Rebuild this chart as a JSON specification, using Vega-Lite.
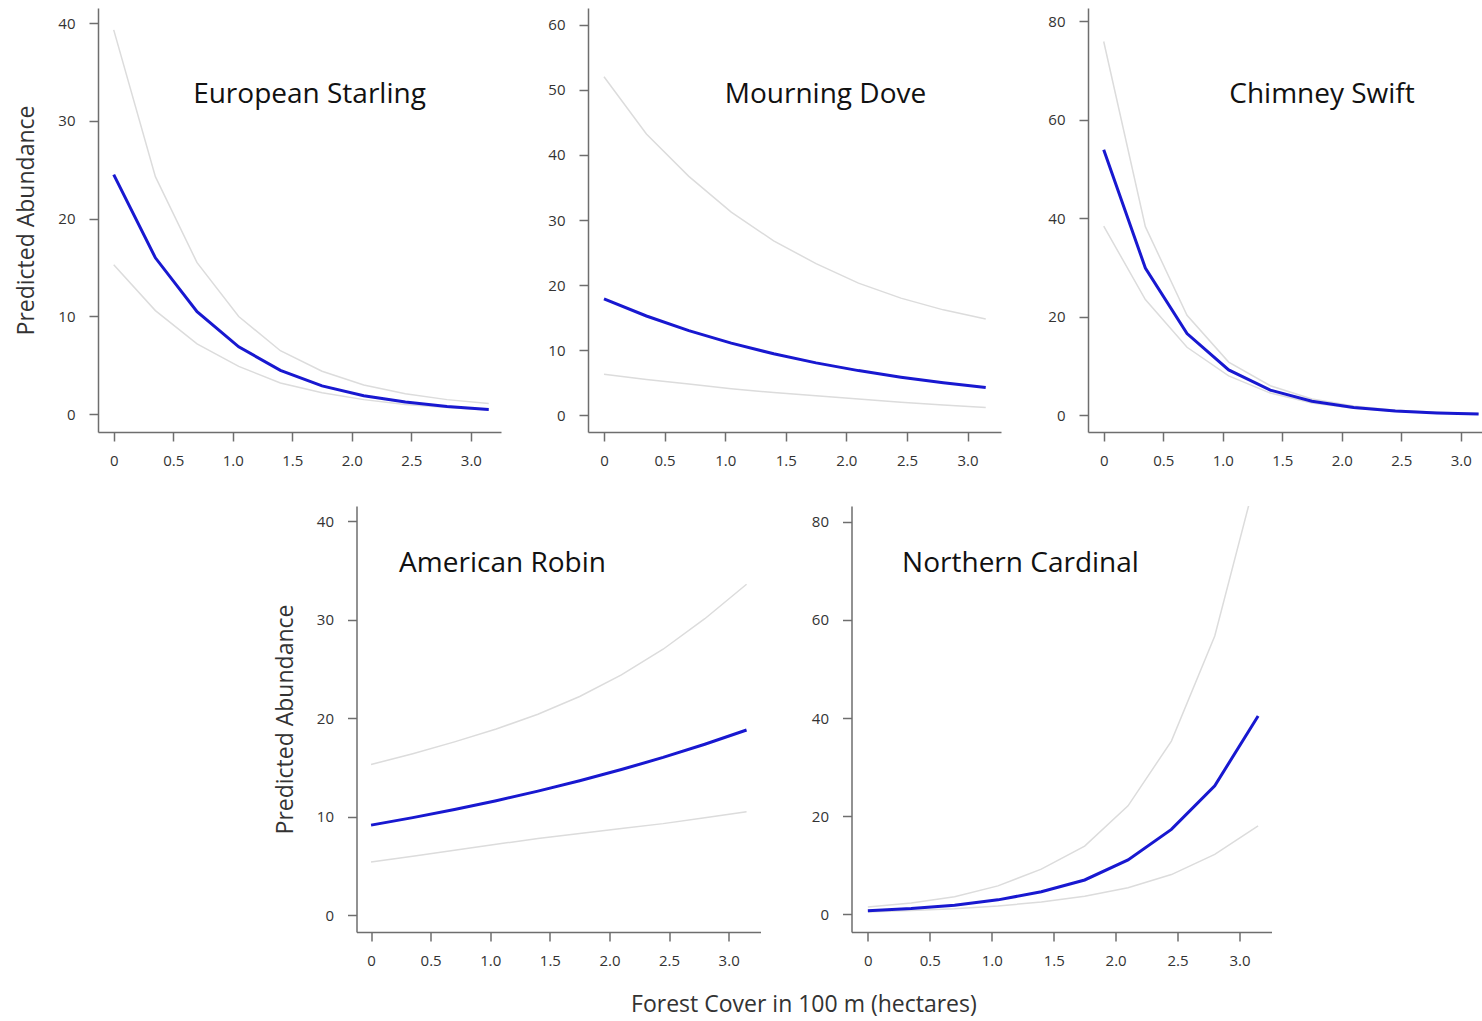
{
  "$schema": "https://vega.github.io/schema/vega-lite/v6.json",
  "padding": {"left": 15, "top": 8, "right": 0, "bottom": 10},
  "background": "white",
  "datasets": {
    "d": [
      {"sp": "European Starling", "x": 0, "fit": 24.5, "lo": 15.3, "hi": 39.3},
      {"sp": "European Starling", "x": 0.35, "fit": 16.0, "lo": 10.6, "hi": 24.3},
      {"sp": "European Starling", "x": 0.7, "fit": 10.5, "lo": 7.2, "hi": 15.5},
      {"sp": "European Starling", "x": 1.05, "fit": 6.9, "lo": 4.9, "hi": 10.0},
      {"sp": "European Starling", "x": 1.4, "fit": 4.5, "lo": 3.2, "hi": 6.5},
      {"sp": "European Starling", "x": 1.75, "fit": 2.9, "lo": 2.2, "hi": 4.4},
      {"sp": "European Starling", "x": 2.1, "fit": 1.9, "lo": 1.5, "hi": 3.0},
      {"sp": "European Starling", "x": 2.45, "fit": 1.25, "lo": 1.0, "hi": 2.1},
      {"sp": "European Starling", "x": 2.8, "fit": 0.8, "lo": 0.7, "hi": 1.5},
      {"sp": "European Starling", "x": 3.15, "fit": 0.5, "lo": 0.45, "hi": 1.1},
      {"sp": "Mourning Dove", "x": 0, "fit": 17.9, "lo": 6.3, "hi": 52.0},
      {"sp": "Mourning Dove", "x": 0.35, "fit": 15.26, "lo": 5.5, "hi": 43.2},
      {"sp": "Mourning Dove", "x": 0.7, "fit": 13.01, "lo": 4.8, "hi": 36.7},
      {"sp": "Mourning Dove", "x": 1.05, "fit": 11.09, "lo": 4.1, "hi": 31.2},
      {"sp": "Mourning Dove", "x": 1.4, "fit": 9.45, "lo": 3.5, "hi": 26.8},
      {"sp": "Mourning Dove", "x": 1.75, "fit": 8.06, "lo": 3.0, "hi": 23.3},
      {"sp": "Mourning Dove", "x": 2.1, "fit": 6.87, "lo": 2.5, "hi": 20.3},
      {"sp": "Mourning Dove", "x": 2.45, "fit": 5.86, "lo": 2.0, "hi": 18.0},
      {"sp": "Mourning Dove", "x": 2.8, "fit": 4.99, "lo": 1.6, "hi": 16.2},
      {"sp": "Mourning Dove", "x": 3.15, "fit": 4.26, "lo": 1.2, "hi": 14.8},
      {"sp": "Chimney Swift", "x": 0, "fit": 53.9, "lo": 38.4, "hi": 75.9},
      {"sp": "Chimney Swift", "x": 0.35, "fit": 29.9, "lo": 23.5, "hi": 38.3},
      {"sp": "Chimney Swift", "x": 0.7, "fit": 16.6, "lo": 13.8, "hi": 20.3},
      {"sp": "Chimney Swift", "x": 1.05, "fit": 9.2, "lo": 8.0, "hi": 10.8},
      {"sp": "Chimney Swift", "x": 1.4, "fit": 5.1, "lo": 4.5, "hi": 6.0},
      {"sp": "Chimney Swift", "x": 1.75, "fit": 2.84, "lo": 2.5, "hi": 3.3},
      {"sp": "Chimney Swift", "x": 2.1, "fit": 1.58, "lo": 1.4, "hi": 1.9},
      {"sp": "Chimney Swift", "x": 2.45, "fit": 0.87, "lo": 0.8, "hi": 1.0},
      {"sp": "Chimney Swift", "x": 2.8, "fit": 0.48, "lo": 0.45, "hi": 0.6},
      {"sp": "Chimney Swift", "x": 3.15, "fit": 0.27, "lo": 0.25, "hi": 0.35},
      {"sp": "American Robin", "x": 0, "fit": 9.15, "lo": 5.4, "hi": 15.3},
      {"sp": "American Robin", "x": 0.35, "fit": 9.91, "lo": 6.0, "hi": 16.4},
      {"sp": "American Robin", "x": 0.7, "fit": 10.74, "lo": 6.6, "hi": 17.6},
      {"sp": "American Robin", "x": 1.05, "fit": 11.63, "lo": 7.2, "hi": 18.9},
      {"sp": "American Robin", "x": 1.4, "fit": 12.6, "lo": 7.8, "hi": 20.4},
      {"sp": "American Robin", "x": 1.75, "fit": 13.65, "lo": 8.3, "hi": 22.2},
      {"sp": "American Robin", "x": 2.1, "fit": 14.79, "lo": 8.8, "hi": 24.4},
      {"sp": "American Robin", "x": 2.45, "fit": 16.02, "lo": 9.3, "hi": 27.0},
      {"sp": "American Robin", "x": 2.8, "fit": 17.36, "lo": 9.9, "hi": 30.1},
      {"sp": "American Robin", "x": 3.15, "fit": 18.8, "lo": 10.5, "hi": 33.6},
      {"sp": "Northern Cardinal", "x": 0, "fit": 0.75, "lo": 0.5, "hi": 1.5},
      {"sp": "Northern Cardinal", "x": 0.35, "fit": 1.2, "lo": 0.8, "hi": 2.3},
      {"sp": "Northern Cardinal", "x": 0.7, "fit": 1.85, "lo": 1.15, "hi": 3.6},
      {"sp": "Northern Cardinal", "x": 1.05, "fit": 2.95, "lo": 1.7, "hi": 5.8},
      {"sp": "Northern Cardinal", "x": 1.4, "fit": 4.6, "lo": 2.5, "hi": 9.2},
      {"sp": "Northern Cardinal", "x": 1.75, "fit": 7.0, "lo": 3.7, "hi": 13.9},
      {"sp": "Northern Cardinal", "x": 2.1, "fit": 11.1, "lo": 5.4, "hi": 22.1},
      {"sp": "Northern Cardinal", "x": 2.45, "fit": 17.3, "lo": 8.1, "hi": 35.3},
      {"sp": "Northern Cardinal", "x": 2.8, "fit": 26.2, "lo": 12.2, "hi": 56.7},
      {"sp": "Northern Cardinal", "x": 3.15, "fit": 40.4, "lo": 18.0, "hi": 90.7}
    ]
  },
  "title": {"text": "Forest Cover in 100 m (hectares)", "orient": "bottom", "anchor": "middle", "frame": "bounds", "fontSize": 23, "color": "#333333", "baseline": "top", "offset": 26, "dx": 31},
  "spacing": 38,
  "center": true,
  "vconcat": [
    {
      "hconcat": [
        {
          "width": 403, "height": 424,
          "data": {"name": "d"},
          "transform": [{"filter": "datum.sp === 'European Starling'"}, {"fold": ["lo", "hi", "fit"], "as": ["band", "value"]}],
          "title": {"text": "European Starling", "dx": 10, "offset": -101},
          "encoding": {
            "x": {"field": "x", "type": "quantitative", "scale": {"domain": [-0.132, 3.253], "nice": false, "zero": false}, "axis": {"values": [0, 0.5, 1, 1.5, 2, 2.5, 3], "title": null, "labelExpr": "datum.value === 0 ? '0' : format(datum.value, '.1f')"}},
            "y": {"field": "value", "type": "quantitative", "scale": {"domain": [-1.81, 41.54], "nice": false, "zero": false}, "axis": {"values": [0, 10, 20, 30, 40], "title": "Predicted Abundance"}}
          },
          "layer": [
            {"transform": [{"filter": "datum.band !== 'fit'"}], "mark": {"type": "line", "color": "#dcdcdc", "strokeWidth": 1.5, "clip": true}, "encoding": {"detail": {"field": "band"}}},
            {"transform": [{"filter": "datum.band === 'fit'"}], "mark": {"type": "line", "color": "#1818d0", "strokeWidth": 3, "clip": true}, "encoding": {}}
          ]
        },
        {
          "width": 413, "height": 424,
          "data": {"name": "d"},
          "transform": [{"filter": "datum.sp === 'Mourning Dove'"}, {"fold": ["lo", "hi", "fit"], "as": ["band", "value"]}],
          "title": {"text": "Mourning Dove", "dx": 31, "offset": -101},
          "encoding": {
            "x": {"field": "x", "type": "quantitative", "scale": {"domain": [-0.132, 3.276], "nice": false, "zero": false}, "axis": {"values": [0, 0.5, 1, 1.5, 2, 2.5, 3], "title": null, "labelExpr": "datum.value === 0 ? '0' : format(datum.value, '.1f')"}},
            "y": {"field": "value", "type": "quantitative", "scale": {"domain": [-2.56, 62.56], "nice": false, "zero": false}, "axis": {"values": [0, 10, 20, 30, 40, 50, 60], "title": null}}
          },
          "layer": [
            {"transform": [{"filter": "datum.band !== 'fit'"}], "mark": {"type": "line", "color": "#dcdcdc", "strokeWidth": 1.5, "clip": true}, "encoding": {"detail": {"field": "band"}}},
            {"transform": [{"filter": "datum.band === 'fit'"}], "mark": {"type": "line", "color": "#1818d0", "strokeWidth": 3, "clip": true}, "encoding": {}}
          ]
        },
        {
          "width": 442, "height": 424,
          "data": {"name": "d"},
          "transform": [{"filter": "datum.sp === 'Chimney Swift'"}, {"fold": ["lo", "hi", "fit"], "as": ["band", "value"]}],
          "title": {"text": "Chimney Swift", "dx": 13, "offset": -101},
          "encoding": {
            "x": {"field": "x", "type": "quantitative", "scale": {"domain": [-0.132, 3.582], "nice": false, "zero": false}, "axis": {"values": [0, 0.5, 1, 1.5, 2, 2.5, 3], "title": null, "labelExpr": "datum.value === 0 ? '0' : format(datum.value, '.1f')"}},
            "y": {"field": "value", "type": "quantitative", "scale": {"domain": [-3.4, 82.7], "nice": false, "zero": false}, "axis": {"values": [0, 20, 40, 60, 80], "title": null}}
          },
          "layer": [
            {"transform": [{"filter": "datum.band !== 'fit'"}], "mark": {"type": "line", "color": "#dcdcdc", "strokeWidth": 1.5, "clip": true}, "encoding": {"detail": {"field": "band"}}},
            {"transform": [{"filter": "datum.band === 'fit'"}], "mark": {"type": "line", "color": "#1818d0", "strokeWidth": 3, "clip": true}, "encoding": {}}
          ]
        }
      ],
      "spacing": 87,
      "bounds": "flush"
    },
    {
      "hconcat": [
        {
          "width": 404, "height": 426,
          "data": {"name": "d"},
          "transform": [{"filter": "datum.sp === 'American Robin'"}, {"fold": ["lo", "hi", "fit"], "as": ["band", "value"]}],
          "title": {"text": "American Robin", "dx": -56, "offset": -72},
          "encoding": {
            "x": {"field": "x", "type": "quantitative", "scale": {"domain": [-0.122, 3.267], "nice": false, "zero": false}, "axis": {"values": [0, 0.5, 1, 1.5, 2, 2.5, 3], "title": null, "labelExpr": "datum.value === 0 ? '0' : format(datum.value, '.1f')"}},
            "y": {"field": "value", "type": "quantitative", "scale": {"domain": [-1.7, 41.54], "nice": false, "zero": false}, "axis": {"values": [0, 10, 20, 30, 40], "title": "Predicted Abundance"}}
          },
          "layer": [
            {"transform": [{"filter": "datum.band !== 'fit'"}], "mark": {"type": "line", "color": "#dcdcdc", "strokeWidth": 1.5, "clip": true}, "encoding": {"detail": {"field": "band"}}},
            {"transform": [{"filter": "datum.band === 'fit'"}], "mark": {"type": "line", "color": "#1818d0", "strokeWidth": 3, "clip": true}, "encoding": {}}
          ]
        },
        {
          "width": 420, "height": 426,
          "data": {"name": "d"},
          "transform": [{"filter": "datum.sp === 'Northern Cardinal'"}, {"fold": ["lo", "hi", "fit"], "as": ["band", "value"]}],
          "title": {"text": "Northern Cardinal", "dx": -41, "offset": -72},
          "encoding": {
            "x": {"field": "x", "type": "quantitative", "scale": {"domain": [-0.132, 3.258], "nice": false, "zero": false}, "axis": {"values": [0, 0.5, 1, 1.5, 2, 2.5, 3], "title": null, "labelExpr": "datum.value === 0 ? '0' : format(datum.value, '.1f')"}},
            "y": {"field": "value", "type": "quantitative", "scale": {"domain": [-3.6, 83.2], "nice": false, "zero": false}, "axis": {"values": [0, 20, 40, 60, 80], "title": null}}
          },
          "layer": [
            {"transform": [{"filter": "datum.band !== 'fit'"}], "mark": {"type": "line", "color": "#dcdcdc", "strokeWidth": 1.5, "clip": true}, "encoding": {"detail": {"field": "band"}}},
            {"transform": [{"filter": "datum.band === 'fit'"}], "mark": {"type": "line", "color": "#1818d0", "strokeWidth": 3, "clip": true}, "encoding": {}}
          ]
        }
      ],
      "spacing": 91,
      "bounds": "flush"
    }
  ],
  "config": {
    "font": "Open Sans",
    "view": {"stroke": null},
    "axis": {"grid": false, "domainColor": "#6e6e6e", "domainWidth": 1.5, "tickColor": "#6e6e6e", "tickWidth": 1.5, "tickSize": 9, "labelFont": "Open Sans", "labelFontSize": 15, "labelColor": "#333333", "labelFlush": false, "titleFont": "Open Sans", "titleFontSize": 23, "titleFontWeight": "normal", "titleColor": "#333333"},
    "axisY": {"titlePadding": 19, "labelPadding": 14},
    "axisX": {"labelPadding": 12},
    "title": {"font": "Open Sans", "fontSize": 28, "fontWeight": "normal", "color": "#111111", "anchor": "middle", "frame": "group", "orient": "top", "baseline": "alphabetic"}
  }
}
